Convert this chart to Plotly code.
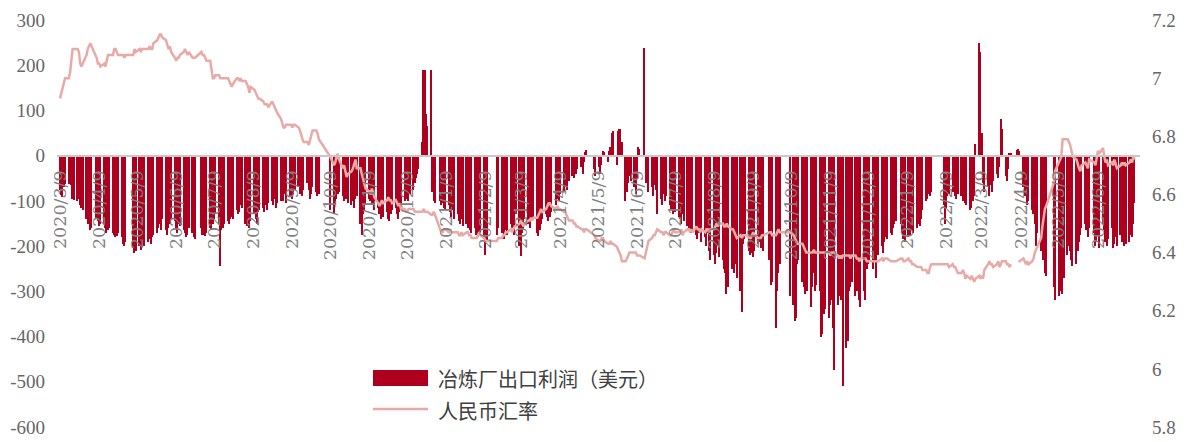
import pandas as pd
import plotly.graph_objects as go

# ---------------- data ----------------
holidays = ["2020-04-06", "2020-05-01", "2020-05-04", "2020-05-05", "2020-06-25", "2020-06-26",
            "2020-10-01", "2020-10-02", "2020-10-05", "2020-10-06", "2020-10-07", "2020-10-08",
            "2021-01-01", "2021-02-11", "2021-02-12", "2021-02-15", "2021-02-16", "2021-02-17",
            "2021-04-05", "2021-05-03", "2021-05-04", "2021-05-05", "2021-06-14", "2021-09-20",
            "2021-09-21", "2021-10-01", "2021-10-04", "2021-10-05", "2021-10-06", "2021-10-07",
            "2022-01-03", "2022-01-31", "2022-02-01", "2022-02-02", "2022-02-03", "2022-02-04",
            "2022-04-04", "2022-04-05", "2022-05-02", "2022-05-03", "2022-05-04", "2022-06-03"]

months = ["2020-03", "2020-04", "2020-05", "2020-06", "2020-07", "2020-08", "2020-09", "2020-10",
          "2020-11", "2020-12", "2021-01", "2021-02", "2021-03", "2021-04", "2021-05", "2021-06",
          "2021-07", "2021-08", "2021-09", "2021-10", "2021-11", "2021-12", "2022-01", "2022-02",
          "2022-03", "2022-04", "2022-05", "2022-06", "2022-07"]

# 冶炼厂出口利润（美元）, one value per trading day
profit_2020_03 = [-75, -88, -92, -70, -62, -62, -60, -65, -95, -98, -100, -95, -110, -115, -120, -140, -150]
profit_2020_04 = [-150, -165, -160, -140, -145, -155, -150, -150, -160, -170, -165, -160, -170, -175, -180, -178, -172, -180, -195, -200, -190]
profit_2020_05 = [-205, -215, -210, -200, -208, -195, -190, -200, -190, -185, -195, -180, -175, -170, -160, -150, -165, -140]
profit_2020_06 = [-165, -175, -160, -150, -140, -145, -160, -170, -150, -155, -165, -170, -180, -175, -160, -170, -180, -185, -160, -175]
profit_2020_07 = [-175, -178, -170, -160, -165, -150, -140, -130, -150, -245, -165, -160, -150, -145, -150, -140, -135, -140, -120, -130, -125, -110, -115]
profit_2020_08 = [-150, -155, -140, -160, -145, -130, -140, -150, -125, -120, -115, -125, -110, -120, -105, -100, -110, -95, -115, -105, -100]
profit_2020_09 = [-95, -100, -85, -105, -90, -80, -95, -85, -75, -70, -85, -80, -90, -75, -60, -75, -95, -85, -70, -80, -90, -85]
profit_2020_10 = [-120, -130, -110, -95, -85, -80, -90, -100, -85, -95, -105, -110, -100, -115, -95, -90]
profit_2020_11 = [-150, -175, -130, -120, -110, -95, -100, -110, -105, -120, -115, -130, -140, -120, -135, -125, -140, -145, -130, -120, -115]
profit_2020_12 = [-130, -140, -125, -110, -100, -95, -90, -100, -85, -75, -60, -50, -40, -30, 30, 190, 190, 92, 66, 190, -80, -100, -105]
profit_2021_01 = [-100, -110, -105, -115, -120, -110, -125, -135, -120, -140, -130, -145, -150, -140, -155, -150, -160, -145, -165, -170]
profit_2021_02 = [-160, -175, -180, -165, -170, -185, -220, -190, -175, -160, -170, -150, -185, -165, -175]
profit_2021_03 = [-150, -160, -140, -175, -130, -200, -222, -170, -160, -140, -150, -160, -130, -145, -135, -170, -178, -165, -150, -140, -130, -135, -145]
profit_2021_04 = [-135, -125, -110, -95, -100, -85, -80, -70, -60, -75, -55, -45, -50, -35, -40, -30, -25, -40, -15, 8, 12]
profit_2021_05 = [-30, -45, -25, -40, -20, 10, 8, -15, 10, 20, 50, 55, -20, 55, 60, 58, 30, -100]
profit_2021_06 = [-80, -60, -45, -55, -70, -85, -50, 20, 15, 238, -60, -45, -80, -70, -90, -65, -75, -130, -95, -110, -85]
profit_2021_07 = [-100, -90, -110, -120, -105, -130, -125, -135, -140, -150, -130, -145, -155, -160, -150, -170, -165, -175, -185, -170, -160, -190]
profit_2021_08 = [-180, -200, -170, -210, -230, -220, -240, -215, -200, -225, -230, -250, -260, -305, -290, -250, -235, -260, -240, -270, -300, -345]
profit_2021_09 = [-195, -185, -175, -210, -220, -215, -224, -210, -195, -190, -205, -200, -210, -230, -285, -280, -380, -300, -260, -240]
profit_2021_10 = [-310, -330, -365, -360, -240, -230, -280, -290, -305, -275, -300, -335, -290, -260, -300, -285]
profit_2021_11 = [-300, -400, -395, -350, -340, -360, -330, -320, -380, -475, -330, -310, -300, -320, -510, -425, -410, -300, -290, -280, -310, -300]
profit_2021_12 = [-280, -320, -335, -300, -320, -250, -240, -230, -250, -230, -270, -210, -220, -200, -215, -190, -180, -185, -170, -175, -160, -150, -145]
profit_2022_01 = [-150, -170, -185, -190, -180, -175, -165, -160, -170, -160, -150, -155, -140, -120, -100, -95, -85, -90, -80]
profit_2022_02 = [-110, -150, -115, -90, -85, -80, -75, -90, -95, -85, -90, -100, -95, -105, -110, -120]
profit_2022_03 = [-115, -100, -90, 25, 250, 230, 50, -60, -80, -70, -90, -65, -80, -55, -40, -50, -25, 80, 60, -45, -55, -30, 7]
profit_2022_04 = [5, 12, 14, 10, -70, -90, -80, -110, -100, -120, -130, -150, -200, -170, -210, -190, -230, -260, -265]
profit_2022_05 = [-290, -320, -310, -280, -300, -305, -270, -220, -200, -210, -230, -245, -240, -210, -190, -175, -160, -150, -165]
profit_2022_06 = [-180, -160, -170, -200, -190, -175, -205, -150, -165, -190, -200, -185, -160, -205, -195, -180, -200, -175, -190, -185, -200]
profit_2022_07 = [-195, -190, -175, -180, -150, -105]

# 人民币汇率, one value per trading day (None = missing)
rate_2020_03 = [6.93, 6.95, 6.96, 6.98, 7.00, 7.00, 7.02, 7.06, 7.10, 7.10, 7.10, 7.09, 7.05, 7.04, 7.05, 7.08, 7.10]
rate_2020_04 = [7.11, 7.12, 7.11, 7.07, 7.05, 7.05, 7.04, 7.05, 7.04, 7.06, 7.08, 7.08, 7.08, 7.10, 7.10, 7.09, 7.08, 7.08, 7.08, 7.07, 7.08]
rate_2020_05 = [7.08, 7.10, 7.09, 7.10, 7.09, 7.10, 7.10, 7.10, 7.10, 7.11, 7.10, 7.10, 7.12, 7.13, 7.14, 7.15, 7.15, 7.14]
rate_2020_06 = [7.13, 7.11, 7.10, 7.11, 7.09, 7.07, 7.06, 7.07, 7.07, 7.08, 7.09, 7.10, 7.09, 7.08, 7.09, 7.07, 7.07, 7.07, 7.09, 7.08]
rate_2020_07 = [7.08, 7.07, 7.06, 7.06, 7.03, 7.00, 7.00, 7.01, 7.01, 7.00, 7.00, 7.00, 7.00, 7.00, 6.99, 6.98, 6.97, 6.98, 7.00, 7.00, 6.99, 7.00, 6.99]
rate_2020_08 = [6.99, 6.98, 6.97, 6.95, 6.97, 6.96, 6.95, 6.94, 6.93, 6.93, 6.92, 6.91, 6.91, 6.91, 6.90, 6.92, 6.91, 6.90, 6.89, 6.88, 6.86]
rate_2020_09 = [6.84, 6.83, 6.83, 6.84, 6.84, 6.84, 6.83, 6.84, 6.84, 6.83, 6.82, 6.80, 6.79, 6.78, 6.78, 6.77, 6.79, 6.81, 6.82, 6.82, 6.81, 6.79]
rate_2020_10 = [6.73, 6.70, 6.71, 6.73, 6.74, 6.72, 6.69, 6.70, 6.68, 6.66, 6.67, 6.68, 6.69, 6.71, 6.72, 6.69]
rate_2020_11 = [6.69, 6.67, 6.65, 6.63, 6.62, 6.61, 6.60, 6.62, 6.60, 6.59, 6.57, 6.56, 6.57, 6.58, 6.57, 6.58, 6.59, 6.58, 6.58, 6.57, 6.58]
rate_2020_12 = [6.57, 6.56, 6.57, 6.55, 6.55, 6.54, 6.54, 6.55, 6.55, 6.55, 6.54, 6.54, 6.54, 6.54, 6.54, 6.55, 6.54, 6.54, 6.54, 6.53, 6.53, 6.54, 6.53]
rate_2021_01 = [6.48, 6.47, 6.47, 6.48, 6.48, 6.47, 6.48, 6.47, 6.47, 6.47, 6.47, 6.46, 6.46, 6.47, 6.46, 6.47, 6.47, 6.46, 6.46, 6.45]
rate_2021_02 = [6.45, 6.45, 6.46, 6.47, 6.46, 6.45, 6.44, 6.44, 6.44, 6.45, 6.45, 6.46, 6.46, 6.47, 6.47]
rate_2021_03 = [6.48, 6.47, 6.48, 6.49, 6.49, 6.50, 6.51, 6.50, 6.49, 6.50, 6.51, 6.51, 6.52, 6.51, 6.52, 6.52, 6.53, 6.54, 6.55, 6.54, 6.55, 6.56, 6.57]
rate_2021_04 = [6.57, 6.56, 6.55, 6.56, 6.55, 6.55, 6.54, 6.54, 6.53, 6.52, 6.51, 6.51, 6.50, 6.50, 6.49, 6.49, 6.48, 6.48, 6.47, 6.48, 6.48]
rate_2021_05 = [6.46, 6.45, 6.44, 6.44, 6.45, 6.45, 6.44, 6.43, 6.43, 6.44, 6.43, 6.43, 6.42, 6.41, 6.40, 6.39, 6.37, 6.37]
rate_2021_06 = [6.38, 6.39, 6.40, 6.40, 6.40, 6.40, 6.39, 6.39, 6.39, 6.38, 6.40, 6.43, 6.44, 6.45, 6.46, 6.46, 6.47, 6.48, 6.47, 6.47, 6.46]
rate_2021_07 = [6.47, 6.47, 6.46, 6.46, 6.47, 6.48, 6.47, 6.47, 6.47, 6.48, 6.46, 6.47, 6.48, 6.48, 6.47, 6.48, 6.47, 6.49, 6.48, 6.48, 6.47, 6.48]
rate_2021_08 = [6.47, 6.48, 6.48, 6.47, 6.48, 6.48, 6.49, 6.50, 6.49, 6.50, 6.50, 6.49, 6.49, 6.50, 6.49, 6.48, 6.48, 6.47, 6.46, 6.45, 6.46, 6.45]
rate_2021_09 = [6.46, 6.46, 6.46, 6.45, 6.45, 6.46, 6.47, 6.46, 6.45, 6.45, 6.45, 6.46, 6.46, 6.47, 6.47, 6.46, 6.46, 6.47, 6.48, 6.47]
rate_2021_10 = [6.47, 6.46, 6.45, 6.44, 6.43, 6.43, 6.43, 6.42, 6.41, 6.40, 6.40, 6.40, 6.40, 6.41, 6.40, 6.40]
rate_2021_11 = [6.40, 6.40, 6.40, 6.40, 6.40, 6.40, 6.39, 6.40, 6.40, 6.40, 6.39, 6.38, 6.39, 6.38, 6.39, 6.39, 6.39, 6.39, 6.38, 6.39, 6.39, 6.38]
rate_2021_12 = [6.38, 6.37, 6.38, 6.38, 6.38, 6.37, 6.37, 6.37, 6.37, 6.37, 6.37, 6.37, 6.37, 6.38, 6.37, 6.38, 6.38, 6.38, 6.37, 6.37, 6.37, 6.37, 6.37]
rate_2022_01 = [6.38, 6.38, 6.37, 6.37, 6.38, 6.37, 6.37, 6.36, 6.36, 6.35, 6.35, 6.35, 6.35, 6.34, 6.34, 6.33, 6.33, 6.35, 6.36]
rate_2022_02 = [6.36, 6.36, 6.36, 6.36, 6.35, 6.36, 6.35, 6.35, 6.34, 6.33, 6.33, 6.34, 6.33, 6.31, 6.32, 6.31]
rate_2022_03 = [6.32, 6.31, 6.30, 6.31, 6.32, 6.31, 6.32, 6.31, 6.34, 6.36, 6.37, 6.36, 6.36, 6.35, 6.36, 6.37, 6.35, 6.36, 6.37, 6.37, 6.36, 6.36, 6.35]
rate_2022_04 = [6.36, None, 6.37, 6.37, 6.38, 6.37, 6.36, 6.37, 6.36, 6.37, 6.38, 6.40, 6.41, 6.42, 6.45, 6.49, 6.53, 6.55, 6.56]
rate_2022_05 = [6.64, 6.68, 6.71, 6.72, 6.73, 6.79, 6.79, 6.79, 6.78, 6.77, 6.75, 6.73, 6.72, 6.70, 6.69, 6.68, 6.70, 6.71, 6.70]
rate_2022_06 = [6.69, 6.72, 6.71, 6.70, 6.73, 6.75, 6.74, 6.76, 6.73, 6.71, 6.72, 6.70, 6.71, 6.70, 6.72, 6.70, 6.69, 6.70, 6.71, 6.70, 6.71]
rate_2022_07 = [6.70, 6.71, 6.72, 6.71, 6.73, 6.72]

tick_dates = ["2020-03-09", "2020-04-09", "2020-05-09", "2020-06-09", "2020-07-09", "2020-08-09",
              "2020-09-09", "2020-10-09", "2020-11-09", "2020-12-09", "2021-01-09", "2021-02-09",
              "2021-03-09", "2021-04-09", "2021-05-09", "2021-06-09", "2021-07-09", "2021-08-09",
              "2021-09-09", "2021-10-09", "2021-11-09", "2021-12-09", "2022-01-09", "2022-02-09",
              "2022-03-09", "2022-04-09", "2022-05-09", "2022-06-09"]
tick_labels = ["2020/3/9", "2020/4/9", "2020/5/9", "2020/6/9", "2020/7/9", "2020/8/9",
               "2020/9/9", "2020/10/9", "2020/11/9", "2020/12/9", "2021/1/9", "2021/2/9",
               "2021/3/9", "2021/4/9", "2021/5/9", "2021/6/9", "2021/7/9", "2021/8/9",
               "2021/9/9", "2021/10/9", "2021/11/9", "2021/12/9", "2022/1/9", "2022/2/9",
               "2022/3/9", "2022/4/9", "2022/5/9", "2022/6/9"]
left_ticks = [-600, -500, -400, -300, -200, -100, 0, 100, 200, 300]
left_labels = ["-600", "-500", "-400", "-300", "-200", "-100", "0", "100", "200", "300"]
right_ticks = [5.8, 6.0, 6.2, 6.4, 6.6, 6.8, 7.0, 7.2]
right_labels = ["5.8", "6", "6.2", "6.4", "6.6", "6.8", "7", "7.2"]

profit_by_month = [profit_2020_03, profit_2020_04, profit_2020_05, profit_2020_06, profit_2020_07,
                   profit_2020_08, profit_2020_09, profit_2020_10, profit_2020_11, profit_2020_12,
                   profit_2021_01, profit_2021_02, profit_2021_03, profit_2021_04, profit_2021_05,
                   profit_2021_06, profit_2021_07, profit_2021_08, profit_2021_09, profit_2021_10,
                   profit_2021_11, profit_2021_12, profit_2022_01, profit_2022_02, profit_2022_03,
                   profit_2022_04, profit_2022_05, profit_2022_06, profit_2022_07]
rate_by_month = [rate_2020_03, rate_2020_04, rate_2020_05, rate_2020_06, rate_2020_07,
                 rate_2020_08, rate_2020_09, rate_2020_10, rate_2020_11, rate_2020_12,
                 rate_2021_01, rate_2021_02, rate_2021_03, rate_2021_04, rate_2021_05,
                 rate_2021_06, rate_2021_07, rate_2021_08, rate_2021_09, rate_2021_10,
                 rate_2021_11, rate_2021_12, rate_2022_01, rate_2022_02, rate_2022_03,
                 rate_2022_04, rate_2022_05, rate_2022_06, rate_2022_07]

# ---------------- build trading-day series ----------------
days = pd.bdate_range("2020-03-09", "2022-07-08")
days = days[~days.isin(pd.to_datetime(holidays))]

xs, ps, rs = [], [], []
for m, pv, rv in zip(months, profit_by_month, rate_by_month):
    md = [d for d in days if d.strftime("%Y-%m") == m]
    for d, p, r in zip(md, pv, rv):
        xs.append(d.strftime("%Y-%m-%d"))
        ps.append(p)
        rs.append(r)

BAR = "#AE001E"
LINE = "#E8AAA6"
AXIS_TXT = "#666666"
SERIF = "Liberation Serif, Times New Roman, serif"
CJK = "Noto Sans CJK SC"

fig = go.Figure()
fig.add_trace(go.Bar(x=xs, y=ps, width=86400000 * 1.15, marker=dict(color=BAR, line=dict(width=0)),
                     name="冶炼厂出口利润（美元）", showlegend=False, yaxis="y"))
fig.add_trace(go.Scatter(x=xs, y=rs, mode="lines", connectgaps=False,
                         line=dict(color=LINE, width=2.5), name="人民币汇率",
                         showlegend=False, yaxis="y2"))

W, H = 1186, 442
ML, MR, MT, MB = 57, 46, 20, 15
PW, PH = W - ML - MR, H - MT - MB


def px(xp):
    return (xp - ML) / PW


def py(yp):
    return (H - MB - yp) / PH


fig.update_layout(
    width=W, height=H,
    margin=dict(l=ML, r=MR, t=MT, b=MB, pad=0, autoexpand=False),
    paper_bgcolor="white", plot_bgcolor="white",
    bargap=0,
    xaxis=dict(type="date", range=["2020-03-06 15:00", "2022-07-12 07:00"],
               anchor="free", position=600 / 900, automargin=False,
               showline=True, linecolor="#C8C8C8", linewidth=1.5,
               showgrid=False, zeroline=False, ticks="",
               tickmode="array", tickvals=tick_dates, ticktext=tick_labels,
               tickangle=-90, ticklabelstandoff=7,
               tickfont=dict(family="DejaVu Serif, serif", size=17.5, color="#808080")),
    yaxis=dict(range=[-600, 300], tickmode="array", tickvals=left_ticks, ticktext=left_labels,
               automargin=False,
               showgrid=False, zeroline=False, showline=False, ticks="",
               ticklabelstandoff=11,
               tickfont=dict(family=SERIF, size=19, color=AXIS_TXT)),
    yaxis2=dict(range=[5.8, 7.2], overlaying="y", side="right", anchor="x", automargin=False,
                tickmode="array", tickvals=right_ticks, ticktext=right_labels,
                showgrid=False, zeroline=False, showline=False, ticks="",
                ticklabelstandoff=11,
                tickfont=dict(family=SERIF, size=19, color=AXIS_TXT)),
    showlegend=False,
    shapes=[
        dict(type="rect", xref="paper", yref="paper", x0=px(373), x1=px(428), y0=py(386), y1=py(370),
             fillcolor=BAR, line=dict(width=0)),
        dict(type="line", xref="paper", yref="paper", x0=px(373), x1=px(428), y0=py(409), y1=py(409),
             line=dict(color=LINE, width=2.5)),
    ],
    annotations=[
        dict(text="冶炼厂出口利润（美元）", xref="paper", yref="paper", x=px(436), y=py(378),
             xanchor="left", yanchor="middle", showarrow=False,
             font=dict(family=CJK, size=20, color="#404040")),
        dict(text="人民币汇率", xref="paper", yref="paper", x=px(436), y=py(410),
             xanchor="left", yanchor="middle", showarrow=False,
             font=dict(family=CJK, size=20, color="#404040")),
    ],
)

fig.write_html("out.html")
